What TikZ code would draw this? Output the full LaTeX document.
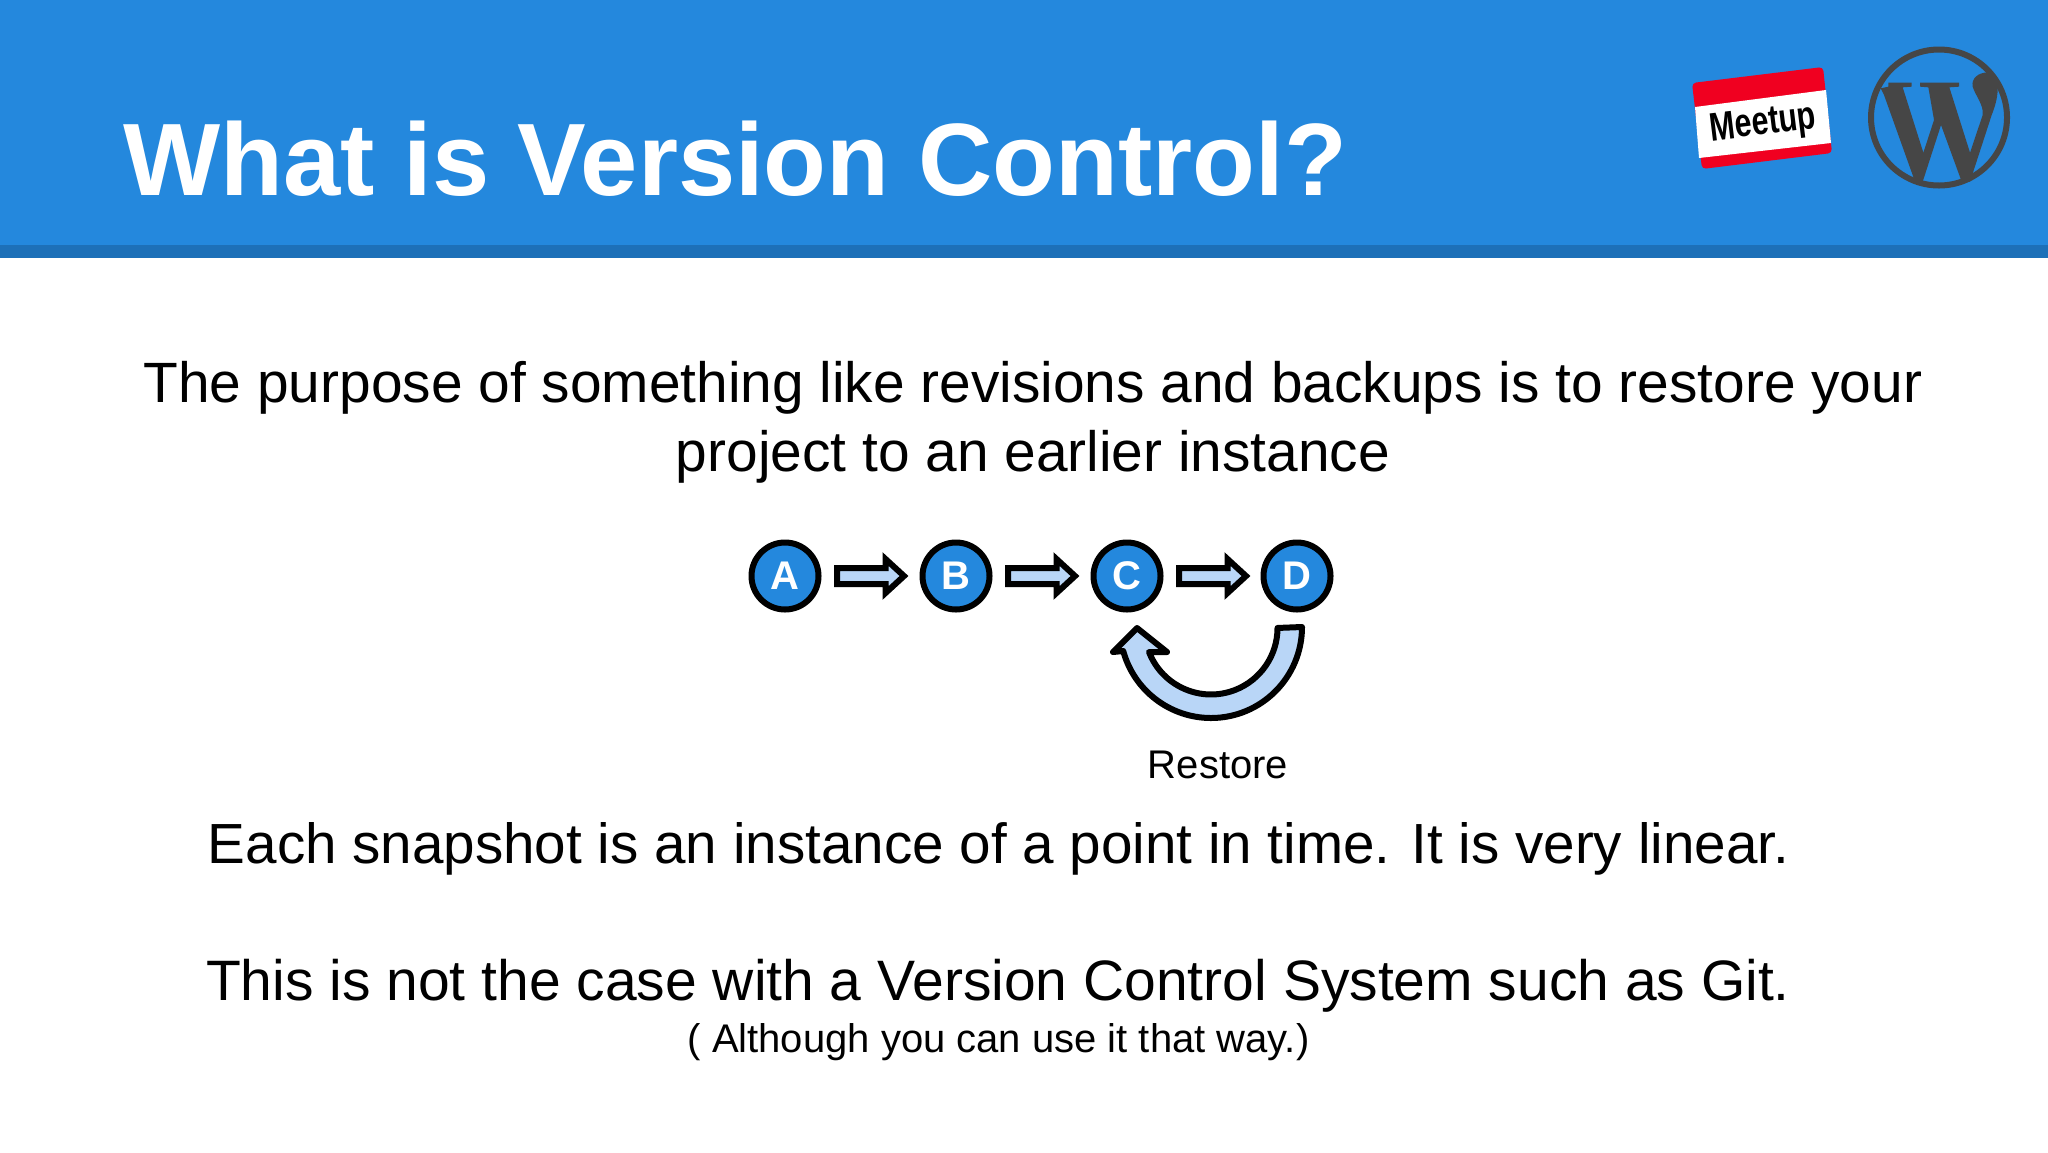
\documentclass[tikz,border=0pt]{standalone}
\usepackage{fontspec}
\usepackage{graphicx}
\setmainfont{Liberation Sans}
\definecolor{slideblue}{HTML}{2488DD}
\definecolor{stripblue}{HTML}{1D70B8}
\definecolor{paleblue}{HTML}{B9D6F7}
\definecolor{wpgrey}{HTML}{464646}
\definecolor{tagred}{HTML}{F00020}
\tikzset{
  x=0.5pt,y=-0.5pt,
  circ/.style={circle,draw=black,fill=slideblue,line width=3pt,minimum size=33.5pt,inner sep=0pt,text=white,font=\bfseries\fontsize{20}{24}\selectfont},
  blockarrow/.style={draw=black,fill=paleblue,line width=3pt,miter limit=10},
  curvearrow/.style={draw=black,fill=paleblue,line width=3pt,line join=round},
  body/.style={text=black,align=center,inner sep=0pt,font=\fontsize{28.42}{34.5}\selectfont},
  small/.style={text=black,align=center,inner sep=0pt,font=\fontsize{20}{24}\selectfont}
}
\begin{document}
\begin{tikzpicture}
\useasboundingbox (0,0) rectangle (2048,1152);
\fill[white] (0,0) rectangle (2048,1152);
\fill[slideblue] (0,0) rectangle (2048,245);
\fill[stripblue] (0,245) rectangle (2048,258);
\node[anchor=base west,inner sep=0pt,text=white,font=\bfseries\fontsize{51.45}{60}\selectfont] (title) at (123,195) {What is Version Control?};
% meetup tag
\fill[tagred,rounded corners=2pt] (1692,83) -- (1823,67) -- (1832,153) -- (1702,169) -- cycle;
\fill[white] (1695,107) -- (1826,90) -- (1831,143) -- (1699,158) -- cycle;
\node[rotate=7,inner sep=0pt,text=black,font=\bfseries\fontsize{20}{24}\selectfont] (meetup) at (1763,125) {\scalebox{.76}[1]{Meetup}};
% wordpress
\draw[wpgrey,line width=3pt] (1939,117.5) circle (68);
\begin{scope}[shift={(1860,40)},scale=1/3]
\fill[wpgrey] (85,128) -- (155,128) -- (155,140) -- (128,142) -- (190,338) -- (222,240) -- (205,142) -- (180,140) -- (180,128) -- (297,128) -- (297,140) -- (268,142) -- (330,338) -- (368,225)
  .. controls (372,195) and (345,165) .. (338,140)
  .. controls (333,115) and (355,97) .. (385,97)
  .. controls (405,100) and (415,125) .. (413,150)
  .. controls (412,175) and (405,200) .. (395,225)
  -- (330,425) -- (305,425) -- (243,255) -- (188,425) -- (165,425) -- (72,165) -- (62,145) -- (85,140) -- cycle;
\end{scope}
\node[body] (p1) at (1033,422.5) {The purpose of something like revisions and backups is to restore your\\project to an earlier instance};
\node[circ] (A) at (785,576) {A};
\node[circ] (B) at (956,576) {B};
\node[circ] (C) at (1127,576) {C};
\node[circ] (D) at (1297,576) {D};
\foreach \n in {A,B,C}
  \draw[blockarrow,shift={(\n)}] (52,-8) -- (100.5,-8) -- (100.5,-17) -- (119,0) -- (100.5,17) -- (100.5,8) -- (52,8) -- cycle;
\draw[curvearrow,shift={(D)}] (5,51) arc[start angle=0,end angle=164.7,radius=91] -- (-184,76) -- (-160,52) -- (-130,76) -- (-148,76) arc[start angle=158.8,end angle=0,radius=66.5] -- cycle;
\node[small] (restore) at (1218,765) {Restore};
\node[body,font=\fontsize{28.3}{34.5}\selectfont] (p2) at (998.5,849) {Each snapshot is an instance of a point in time. It is very linear.};
\node[body,font=\fontsize{28.5}{34.5}\selectfont] (p3) at (998,986) {This is not the case with a Version Control System such as Git.};
\node[small] (p4) at (998.5,1042) {( Although you can use it that way.)};
\end{tikzpicture}
\end{document}
